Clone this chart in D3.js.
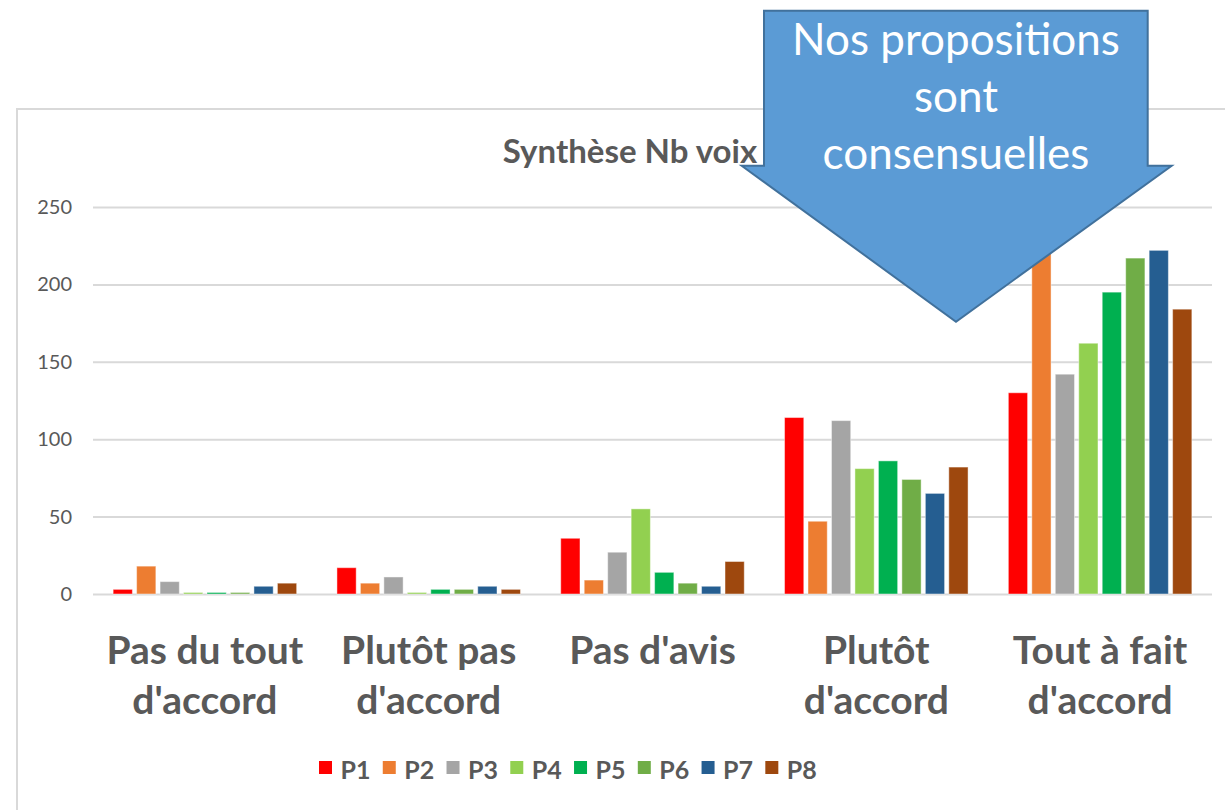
<!DOCTYPE html>
<html>
<head>
<meta charset="utf-8">
<script src="https://cdn.jsdelivr.net/npm/d3@7/dist/d3.min.js"></script>
<style>
  html, body { margin: 0; padding: 0; background: #fff; }
  svg { display: block; font-family: Lato, "Open Sans", sans-serif; }
</style>
</head>
<body>
<svg id="chart" width="1225" height="810"></svg>
<script>
// Categories (x-axis, two lines each)
const categories = [
  ['Pas du tout', "d'accord"],
  ['Plutôt pas', "d'accord"],
  ["Pas d'avis"],
  ['Plutôt', "d'accord"],
  ['Tout à fait', "d'accord"]
];
const seriesNames = ['P1', 'P2', 'P3', 'P4', 'P5', 'P6', 'P7', 'P8'];
const seriesColors = ['#ff0000', '#ed7d31', '#a5a5a5', '#92d050', '#00b050', '#70ad47', '#255e91', '#9e480e'];

// Values per series, one per category
const P1 = [3, 17, 36, 114, 130];
const P2 = [18, 7, 9, 47, 224];
const P3 = [8, 11, 27, 112, 142];
const P4 = [1, 1, 55, 81, 162];
const P5 = [1, 3, 14, 86, 195];
const P6 = [1, 3, 7, 74, 217];
const P7 = [5, 5, 5, 65, 222];
const P8 = [7, 3, 21, 82, 184];
const yTicks = [0, 50, 100, 150, 200, 250];

const title = 'Synthèse Nb voix';
const calloutLines = ['Nos propositions', 'sont', 'consensuelles'];

const seriesValues = [P1, P2, P3, P4, P5, P6, P7, P8];
const catKeys = categories.map((c) => c.join(' '));
const table = catKeys.map((k, i) => ({
  key: k,
  lines: categories[i],
  values: seriesNames.map((s, j) => ({ series: s, value: seriesValues[j][i], color: seriesColors[j] }))
}));

const svg = d3.select('#chart');
const TEXT = '#595959';
const GRID = '#d9d9d9';

// Chart frame (extends past the window edges)
svg.append('rect')
  .attr('x', 17).attr('y', 109)
  .attr('width', 1300).attr('height', 800)
  .attr('fill', '#fff')
  .attr('stroke', GRID)
  .attr('stroke-width', 2);

const plot = { left: 93, right: 1212, top: 207, bottom: 594 };

const x0 = d3.scaleBand()
  .domain(catKeys)
  .range([plot.left, plot.right])
  .paddingInner(0.18)
  .paddingOuter(0.09);

const x1 = d3.scaleBand()
  .domain(seriesNames)
  .range([0, x0.bandwidth()])
  .paddingInner(0.18)
  .paddingOuter(0);

const y = d3.scaleLinear()
  .domain([0, 250])
  .range([plot.bottom, plot.top]);

// Y axis with gridlines
const yAxis = svg.append('g')
  .attr('transform', `translate(${plot.left},0)`)
  .call(d3.axisLeft(y).tickValues(yTicks).tickSize(-(plot.right - plot.left)).tickPadding(21));
yAxis.select('.domain').remove();
yAxis.selectAll('.tick line').attr('stroke', GRID).attr('stroke-width', 2);
yAxis.selectAll('.tick text')
  .attr('fill', TEXT)
  .style('font-size', '20px')
  .style('font-family', 'Lato, sans-serif');

// Title
svg.append('text')
  .attr('x', 630).attr('y', 163)
  .attr('text-anchor', 'middle')
  .attr('fill', TEXT)
  .style('font-size', '33px')
  .style('font-weight', 'bold')
  .text(title);

// Bars
const groups = svg.append('g').selectAll('g')
  .data(table)
  .join('g')
  .attr('transform', (d) => `translate(${x0(d.key)},0)`);

groups.selectAll('rect')
  .data((d) => d.values)
  .join('rect')
  .attr('x', (d) => x1(d.series))
  .attr('y', (d) => y(d.value))
  .attr('width', x1.bandwidth())
  .attr('height', (d) => y(0) - y(d.value))
  .attr('fill', (d) => d.color)
  .attr('stroke', 'rgba(255,255,255,0.45)')
  .attr('stroke-width', 1);

// Category labels
const catLabels = svg.append('g').selectAll('text')
  .data(table)
  .join('text')
  .attr('x', (d) => x0(d.key) + x0.bandwidth() / 2)
  .attr('y', 664)
  .attr('text-anchor', 'middle')
  .attr('fill', TEXT)
  .style('font-size', '39px')
  .style('font-weight', 'bold');
catLabels.selectAll('tspan')
  .data((d) => d.lines)
  .join('tspan')
  .attr('x', function () { return d3.select(this.parentNode).attr('x'); })
  .attr('dy', (d, i) => (i === 0 ? 0 : 50))
  .text((d) => d);

// Legend
const legend = svg.append('g').selectAll('g')
  .data(seriesNames)
  .join('g')
  .attr('transform', (d, i) => `translate(${319 + i * 63.76},761)`);
legend.append('rect')
  .attr('width', 13).attr('height', 13)
  .attr('fill', (d, i) => seriesColors[i]);
legend.append('text')
  .attr('x', 21.5).attr('y', 17.5)
  .attr('fill', TEXT)
  .style('font-size', '25px')
  .style('font-weight', 'bold')
  .text((d) => d);

// Callout arrow
const arrowPts = [
  [764, 10.7], [1147.7, 10.7], [1147.7, 165.7], [1171.7, 165.7],
  [956, 321.7], [741.7, 165.7], [764, 165.7]
];
svg.append('path')
  .attr('d', d3.line()(arrowPts) + 'Z')
  .attr('fill', '#5b9bd5')
  .attr('stroke', '#41719c')
  .attr('stroke-width', 2)
  .attr('stroke-linejoin', 'miter');

svg.append('g').selectAll('text')
  .data(calloutLines)
  .join('text')
  .attr('x', 956)
  .attr('y', (d, i) => 55 + i * 57)
  .attr('text-anchor', 'middle')
  .attr('fill', '#fff')
  .style('font-size', '44px')
  .text((d) => d);
</script>
</body>
</html>
